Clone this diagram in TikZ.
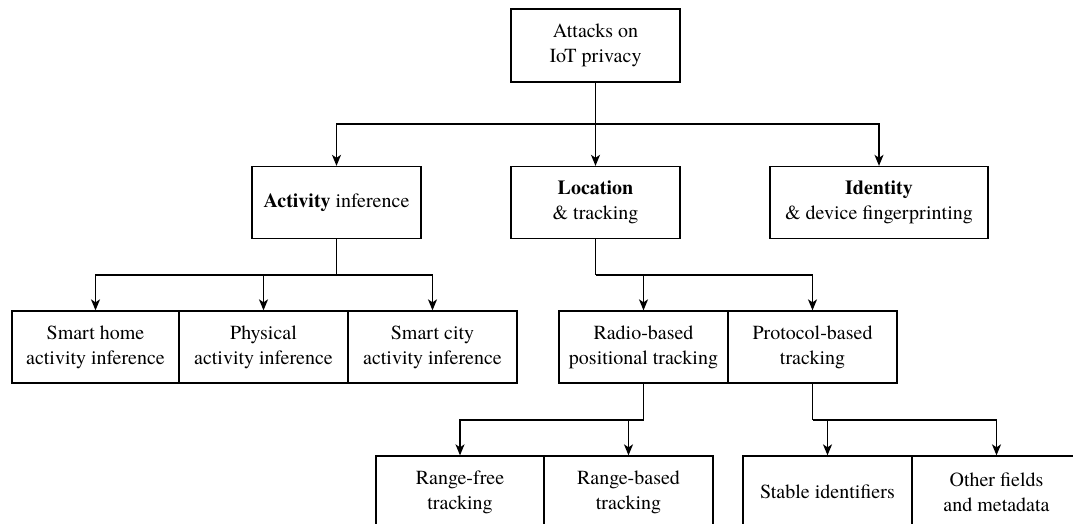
\documentclass[tikz,border=0pt]{standalone}
\usepackage{fontspec}
\setmainfont{texgyretermes}[Extension=.otf, UprightFont=*-regular, BoldFont=*-bold]
\usetikzlibrary{arrows.meta}
\begin{document}
\begin{tikzpicture}[x=1pt,y=-1pt,
  box/.style={draw, line width=1.3pt, rectangle, inner sep=0pt,
    minimum width=169pt, minimum height=72pt, align=center,
    font=\fontsize{20}{25}\selectfont},
  link/.style={line width=1.3pt},
  arr/.style={link, -{Stealth[length=11pt,width=9pt,inset=3pt]}}]
\useasboundingbox (0,0) rectangle (1073,524);
\clip (0,0) rectangle (1073,524);
\fill[white] (0,0) rectangle (1073,524);

% root
\node[box, minimum height=73pt] (root) at (595.5,45.5) {Attacks on\\IoT privacy};

% first level
\node[box] (act) at (336.5,202.5) {\textbf{Activity} inference};
\node[box] (loc) at (595.5,202.5) {\textbf{Location}\\\& tracking};
\node[box, minimum width=218pt] (ident) at (879,202.5) {\textbf{Identity}\\\& device fingerprinting};

% activity children
\node[box, minimum width=167pt] (home) at (95.5,347) {Smart home\\activity inference};
\node[box] (phys) at (263.5,347) {Physical\\activity inference};
\node[box] (city) at (432.5,347) {Smart city\\activity inference};

% location children
\node[box] (radio) at (643.5,347) {Radio-based\\positional tracking};
\node[box] (proto) at (812.5,347) {Protocol-based\\tracking};

% radio children
\node[box, minimum width=168pt] (rfree) at (460,492) {Range-free\\tracking};
\node[box] (rbased) at (628.5,492) {Range-based\\tracking};

% protocol children
\node[box] (stable) at (827.5,492) {Stable identifiers};
\node[box] (other) at (996.5,492) {Other fields\\and metadata};

% junction points
\coordinate (j0) at (595.5,124);
\coordinate (j1) at (336.5,275);
\coordinate (j2) at (595.5,275);
\coordinate (j3) at (643.5,420);
\coordinate (j4) at (812.5,420);

% connectors
\draw[link] (root.south) -- (j0);
\draw[arr] (j0) -| (act.north);
\draw[arr] (j0) -- (loc.north);
\draw[arr] (j0) -| (ident.north);

\draw[link] (act.south) -- (j1);
\draw[arr] (j1) -| (home.north);
\draw[arr] (j1) -| (phys.north);
\draw[arr] (j1) -| (city.north);

\draw[link] (loc.south) -- (j2);
\draw[arr] (j2) -| (radio.north);
\draw[arr] (j2) -| (proto.north);

\draw[link] (radio.south) -- (j3);
\draw[arr] (j3) -| (rfree.north);
\draw[arr] (j3) -| (rbased.north);

\draw[link] (proto.south) -- (j4);
\draw[arr] (j4) -| (stable.north);
\draw[arr] (j4) -| (other.north);
\end{tikzpicture}
\end{document}
